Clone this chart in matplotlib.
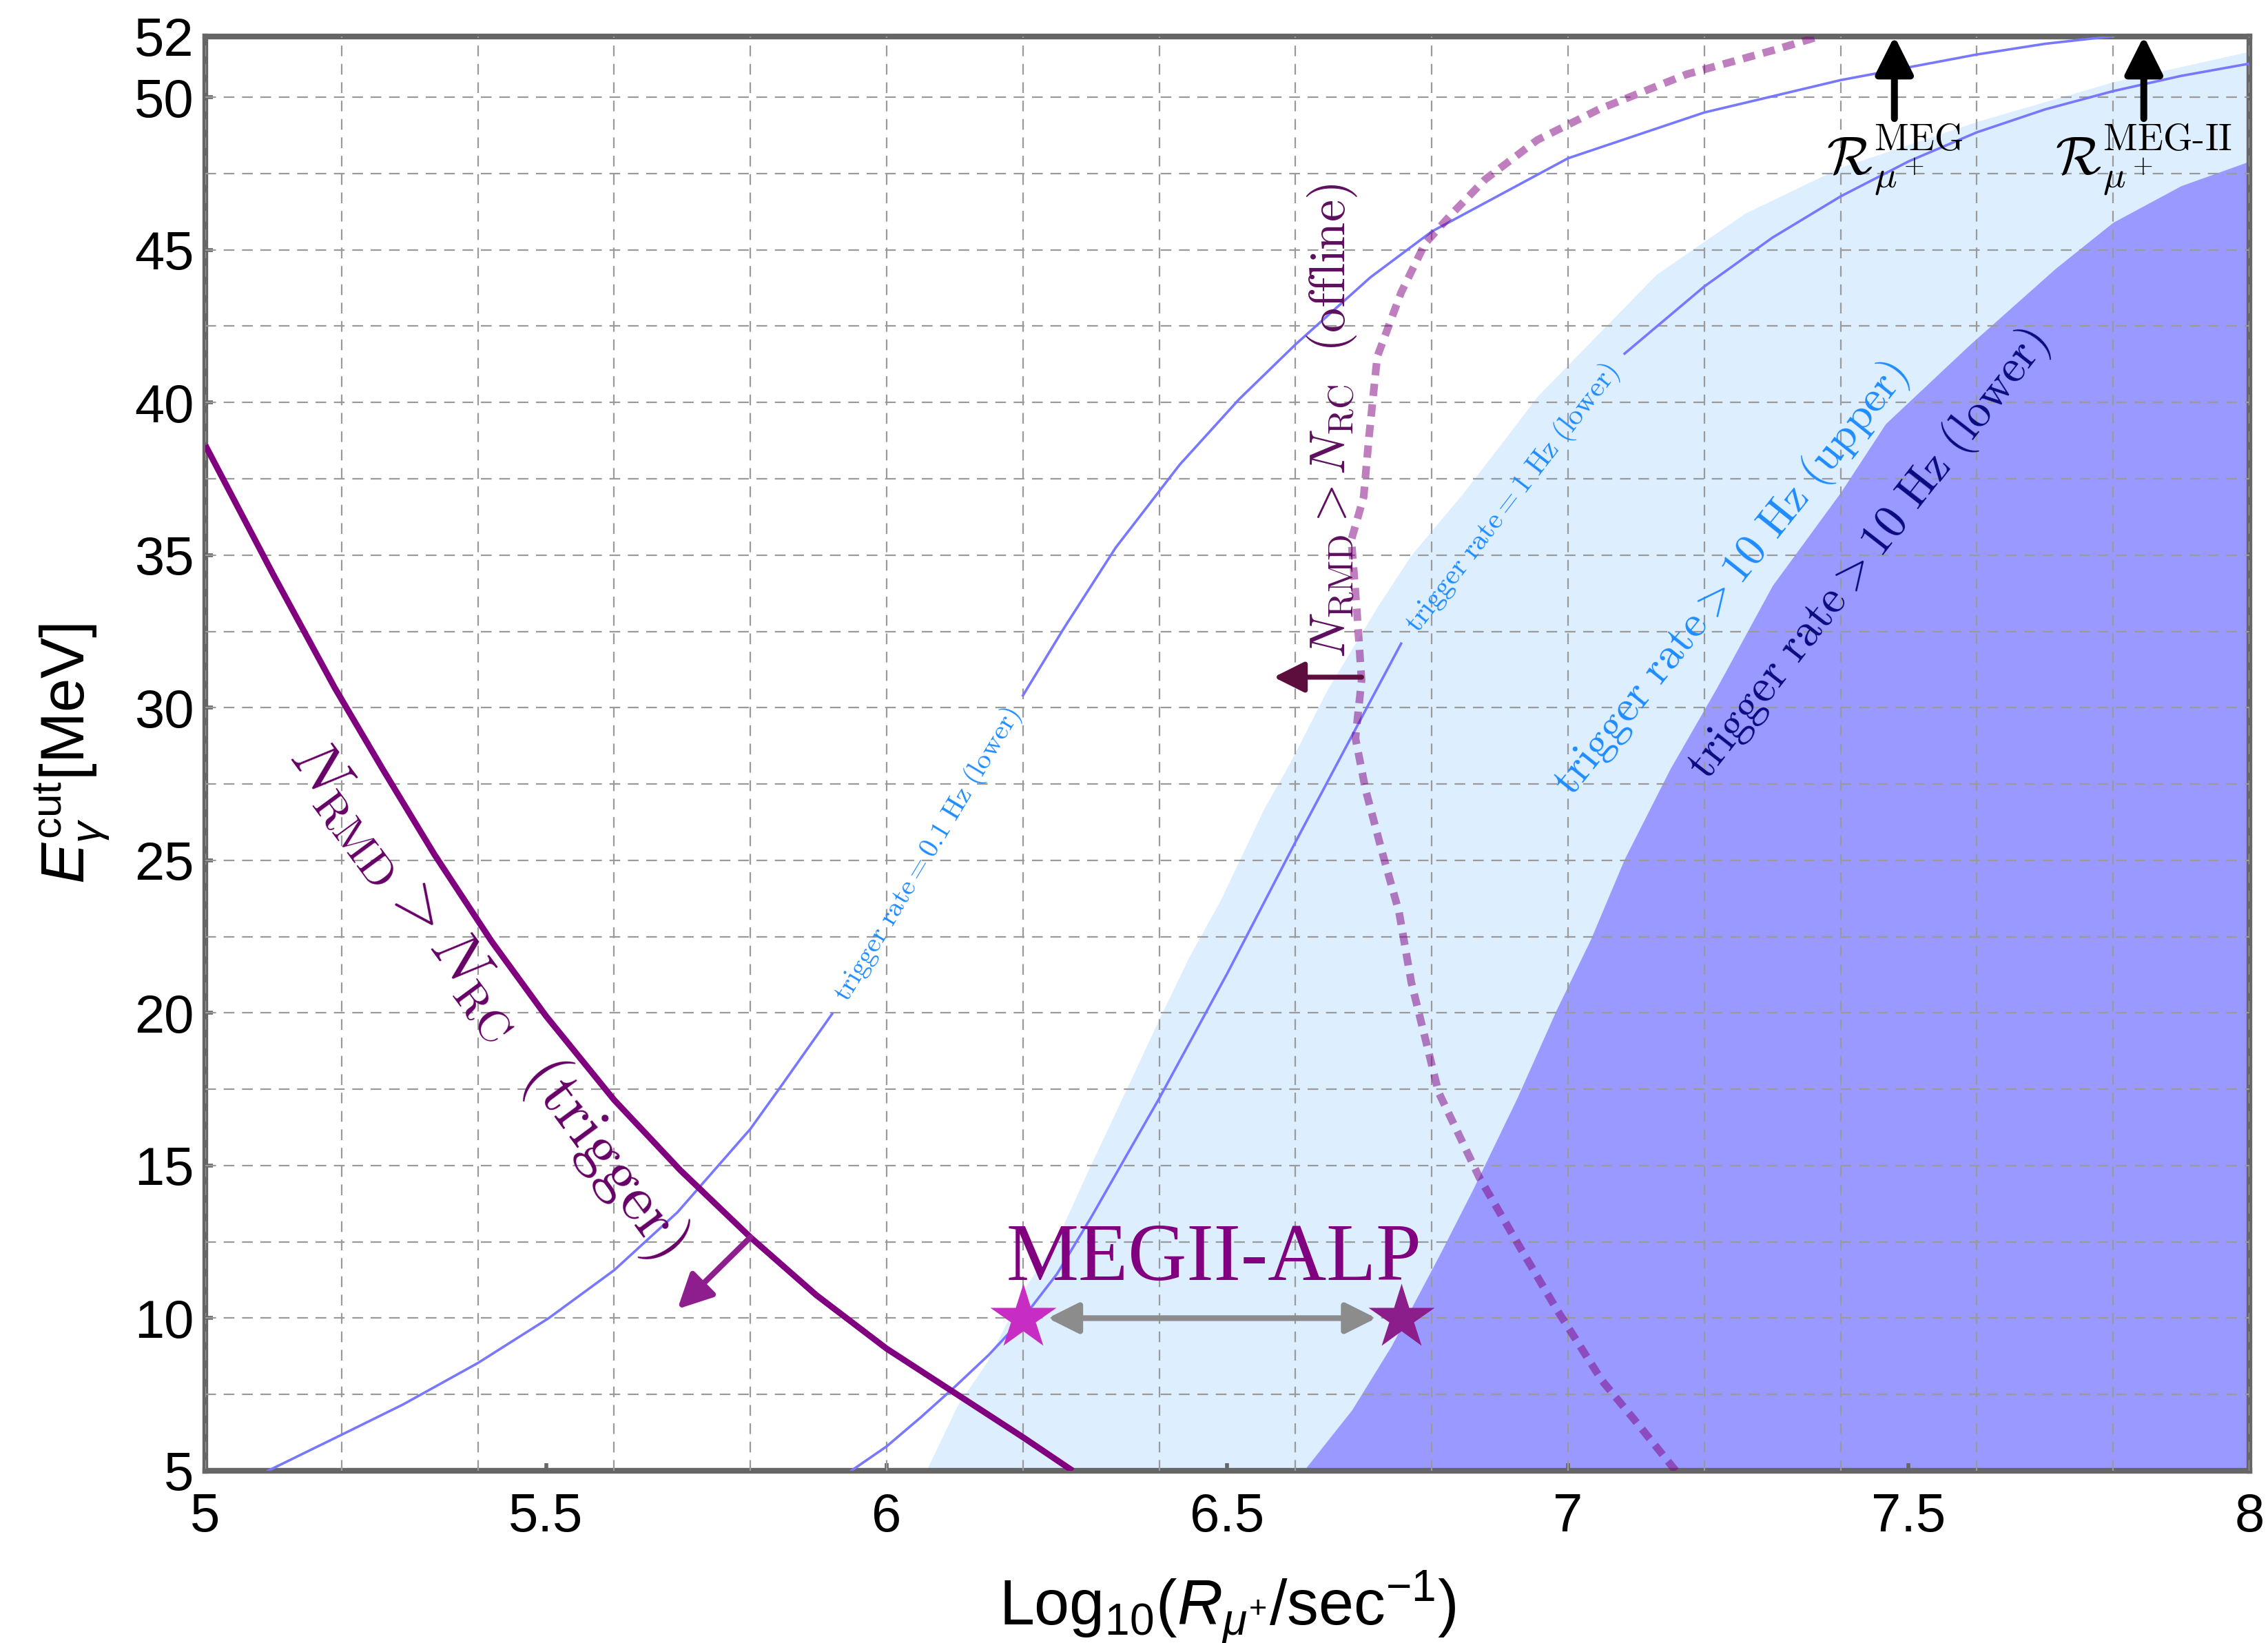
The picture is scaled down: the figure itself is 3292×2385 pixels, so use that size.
import numpy as np
import matplotlib
matplotlib.use("Agg")
import matplotlib.pyplot as plt
from matplotlib.ticker import MultipleLocator, FixedLocator

plt.rcParams["font.family"] = ["Liberation Sans", "DejaVu Sans"]
plt.rcParams["mathtext.fontset"] = "custom"
plt.rcParams["mathtext.rm"] = "Liberation Sans"
plt.rcParams["mathtext.it"] = "Liberation Sans:italic"
plt.rcParams["mathtext.bf"] = "Liberation Sans:bold"

# ---------------- data ----------------
# N_RMD > N_RC (trigger) boundary
trig_x = [5.0, 5.1, 5.19, 5.26, 5.336, 5.42, 5.5, 5.6, 5.697, 5.8, 5.897, 6.0, 6.1, 6.2, 6.273]
trig_y = [38.6, 34.35, 30.65, 28.0, 25.2, 22.35, 19.9, 17.15, 14.85, 12.65, 10.75, 9.0, 7.55, 6.1, 5.0]

# trigger rate = 0.1 Hz (lower)
r01_x = [5.092, 5.2, 5.29, 5.4, 5.504, 5.6, 5.693, 5.8, 5.845, 5.92,
         6.2, 6.26, 6.336, 6.43, 6.517, 6.6, 6.71, 6.8, 7.0, 7.2, 7.4, 7.6, 7.7, 7.8]
r01_y = [5.0, 6.18, 7.17, 8.53, 10.0, 11.57, 13.47, 16.2, 17.6, 19.97,
         30.4, 32.6, 35.24, 37.96, 40.1, 41.9, 44.1, 45.6, 48.0, 49.5, 50.56, 51.4, 51.75, 52.0]
r01_gap = (5.92, 6.2)

# trigger rate = 1 Hz (lower)
r1_x = [5.948, 6.0, 6.05, 6.1, 6.15, 6.2, 6.25, 6.3, 6.4, 6.5, 6.6, 6.7, 6.755,
        7.083, 7.2, 7.3, 7.4, 7.5, 7.6, 7.7, 7.8, 7.9, 8.0]
r1_y = [5.0, 5.8, 6.75, 7.75, 8.8, 10.0, 11.45, 13.3, 17.2, 21.3, 25.6, 29.8, 32.1,
        41.6, 43.8, 45.4, 46.75, 47.9, 48.85, 49.6, 50.2, 50.7, 51.1]
r1_gap = (6.755, 7.083)

# trigger rate > 10 Hz (upper) region boundary
up10_x = [6.058, 6.103, 6.148, 6.2, 6.25, 6.297, 6.335, 6.4, 6.443, 6.49, 6.554, 6.592, 6.647, 6.72,
          6.77, 6.845, 6.897, 6.955, 7.06, 7.13, 7.26, 7.4, 7.6, 7.8, 8.0]
up10_y = [5.0, 7.1, 8.6, 10.9, 12.6, 14.9, 16.7, 19.8, 21.8, 23.7, 26.7, 28.2, 30.6, 33.3,
          35.0, 37.0, 38.5, 40.2, 42.6, 44.2, 46.2, 47.7, 49.2, 50.5, 51.5]

# trigger rate > 10 Hz (lower) region boundary
lo10_x = [6.612, 6.683, 6.741, 6.812, 6.86, 6.925, 6.983, 7.033, 7.083, 7.15, 7.217, 7.3, 7.4,
          7.466, 7.59, 7.716, 7.8, 7.9, 8.0]
lo10_y = [5.0, 7.0, 9.1, 12.1, 14.2, 17.2, 20.1, 22.4, 25.05, 28.0, 30.6, 34.0, 37.05,
          39.3, 41.9, 44.4, 45.9, 47.1, 47.9]

# N_RMD > N_RC (offline) boundary
off_x = [7.158, 7.1, 7.05, 6.983, 6.93, 6.87, 6.81, 6.77, 6.752, 6.728, 6.703, 6.688, 6.697, 6.69,
         6.682, 6.70, 6.708, 6.72, 6.755, 6.79, 6.826, 6.878, 6.955, 7.045, 7.174, 7.303, 7.37]
off_y = [5.0, 6.6, 7.95, 10.3, 12.3, 14.6, 17.4, 21.0, 23.3, 25.2, 27.3, 29.0, 30.9, 33.2,
         35.5, 36.9, 38.9, 41.5, 43.6, 45.2, 46.1, 47.3, 48.6, 49.6, 50.75, 51.55, 52.0]

# MEGII-ALP operating points
star_x = [6.2, 6.755]
star_y = [10.0, 10.0]

# muon stopping rates of MEG and MEG-II
meg_x = [7.479, 7.845]
meg_names = [r"$\mathcal{R}_{\mu^+}^{\mathrm{MEG}}$", r"$\mathcal{R}_{\mu^+}^{\mathrm{MEG\text{-}II}}$"]

xticks = [5, 5.5, 6, 6.5, 7, 7.5, 8]
xtick_labels = ["5", "5.5", "6", "6.5", "7", "7.5", "8"]
yticks = [5, 10, 15, 20, 25, 30, 35, 40, 45, 50, 52]
ytick_labels = ["5", "10", "15", "20", "25", "30", "35", "40", "45", "50", "52"]

# ---------------- figure ----------------
W, H, DPI = 3292, 2385, 200
fig = plt.figure(figsize=(W / DPI, H / DPI), dpi=DPI)
ax = fig.add_axes([298 / W, 1 - 2135 / H, 2967 / W, 2082.5 / H])
ax.set_xlim(5, 8)
ax.set_ylim(5, 52)

FRAME = "#666666"
for s in ax.spines.values():
    s.set_color(FRAME)
    s.set_linewidth(3.0)

ax.set_xticks(xticks)
ax.set_xticklabels(xtick_labels)
ax.set_yticks(yticks)
ax.set_yticklabels(ytick_labels)
ax.xaxis.set_minor_locator(MultipleLocator(0.2))
ax.yaxis.set_minor_locator(FixedLocator(np.arange(7.5, 51, 2.5)))
ax.xaxis.remove_overlapping_locs = False
ax.yaxis.remove_overlapping_locs = False
ax.tick_params(which="major", direction="in", length=4, width=2, color=FRAME,
               labelsize=28, top=False, right=False)
ax.tick_params(axis="x", which="major", pad=11)
ax.tick_params(axis="y", which="major", pad=6)
ax.tick_params(which="minor", length=0)
ax.set_axisbelow(False)
ax.grid(which="minor", color="#9a9a9a", linestyle=(0, (7, 5)), linewidth=0.8)
ax.grid(which="major", visible=False)

# filled trigger-rate regions
ax.fill_betweenx(up10_y, up10_x, 8.0, color="#DDEEFF", lw=0, zorder=1)
ax.fill_betweenx(lo10_y, lo10_x, 8.0, color="#9999FF", lw=0, zorder=1.1)


def plot_with_gap(x, y, gap, **kw):
    x = np.asarray(x)
    y = np.asarray(y)
    left = x <= gap[0]
    right = x >= gap[1]
    ax.plot(x[left], y[left], **kw)
    ax.plot(x[right], y[right], **kw)


def screen_angle(p0, p1):
    a = ax.transData.transform(p0)
    b = ax.transData.transform(p1)
    return np.degrees(np.arctan2(b[1] - a[1], b[0] - a[0]))


BLUE_LINE = "#7777FF"
plot_with_gap(r01_x, r01_y, r01_gap, color=BLUE_LINE, lw=1.3, zorder=3)
plot_with_gap(r1_x, r1_y, r1_gap, color=BLUE_LINE, lw=1.3, zorder=3)

# offline boundary (dashed, translucent purple)
ax.plot(off_x, off_y, color="#800080", alpha=0.5, lw=4.0, linestyle=(0, (1.6, 1.1)),
        dash_capstyle="butt", zorder=3.2)

# trigger boundary
ax.plot(trig_x, trig_y, color="#800080", lw=3.2, zorder=3.4, solid_capstyle="butt")

# rate labels sitting in the gaps of the curves
BLUE_TXT = "#1E8CFF"
for (x, y, gap, txt, fs) in [
    (r01_x, r01_y, r01_gap, r"$\mathrm{trigger\ rate} = 0.1\ \mathrm{Hz}\ (\mathrm{lower})$", 14.5),
    (r1_x, r1_y, r1_gap, r"$\mathrm{trigger\ rate} = 1\ \mathrm{Hz}\ (\mathrm{lower})$", 15.2),
]:
    i0 = x.index(gap[0])
    i1 = x.index(gap[1])
    p0 = (x[i0], y[i0])
    p1 = (x[i1], y[i1])
    ang = screen_angle(p0, p1)
    ax.text((p0[0] + p1[0]) / 2, (p0[1] + p1[1]) / 2, txt, color=BLUE_TXT, fontsize=fs,
            rotation=ang, rotation_mode="anchor", ha="center", va="center",
            math_fontfamily="cm", zorder=4)

ax.text(7.24, 34.2, r"$\mathrm{trigger\ rate} > 10\ \mathrm{Hz}\ (\mathrm{upper})$",
        color=BLUE_TXT, fontsize=23.5, rotation=51.4, rotation_mode="anchor",
        ha="center", va="center", math_fontfamily="cm", zorder=4)
ax.text(7.44, 35.0, r"$\mathrm{trigger\ rate} > 10\ \mathrm{Hz}\ (\mathrm{lower})$",
        color="#0A0A80", fontsize=24.5, rotation=52.0, rotation_mode="anchor",
        ha="center", va="center", math_fontfamily="cm", zorder=4)

# N_RMD > N_RC labels
ax.text(5.4135, 20.46, r"$N_{\mathrm{RMD}} > N_{\mathrm{RC}}\ \ (\mathrm{trigger})$",
        color="#660066", fontsize=33.5, rotation=-53.6, rotation_mode="anchor",
        ha="center", va="center", math_fontfamily="cm", zorder=4)
ax.text(6.654, 39.4, r"$N_{\mathrm{RMD}} > N_{\mathrm{RC}}\ \ (\mathrm{offline})$",
        color="#5E0E5E", fontsize=26, rotation=90, rotation_mode="anchor",
        ha="center", va="center", math_fontfamily="cm", zorder=4)

# direction arrows
ax.annotate("", xy=(5.693, 10.3), xytext=(5.8, 12.65),
            arrowprops=dict(arrowstyle="-|>", color="#8E1E8E", lw=3.0,
                            mutation_scale=38, shrinkA=0, shrinkB=0), zorder=4)
ax.annotate("", xy=(6.568, 31.0), xytext=(6.697, 31.0),
            arrowprops=dict(arrowstyle="-|>", color="#5E0E3C", lw=2.6,
                            mutation_scale=34, shrinkA=0, shrinkB=0), zorder=4)

# MEGII-ALP points and range
ax.annotate("", xy=(star_x[1], star_y[1]), xytext=(star_x[0], star_y[0]),
            arrowprops=dict(arrowstyle="<|-|>", color="#8C8C8C", lw=3.0,
                            mutation_scale=34, shrinkA=13, shrinkB=13), zorder=4)
ax.plot(star_x[0], star_y[0], marker="*", ms=36, color="#C82DC3", mec="none", zorder=5)
ax.plot(star_x[1], star_y[1], marker="*", ms=36, color="#8C1E8C", mec="none", zorder=5)
ax.text(6.48, 11.25, "MEGII-ALP", family="Liberation Serif", fontsize=42.5,
        color="#800080", ha="center", va="baseline", zorder=5)

# MEG / MEG-II stopping rates
for x0, name in zip(meg_x, meg_names):
    ax.annotate("", xy=(x0, 52.0), xytext=(x0, 49.3),
                arrowprops=dict(arrowstyle="-|>", color="black", lw=3.6,
                                mutation_scale=42, shrinkA=0, shrinkB=0),
                annotation_clip=False, zorder=6)
    ax.text(x0, 47.95, name, fontsize=28, color="black", ha="center", va="center",
            math_fontfamily="cm", zorder=6)

ax.set_xlabel(r"Log$_{10}$($R_{\mu^{+}}$/sec$^{-1}$)", fontsize=33, labelpad=14)
ax.set_ylabel(r"$E_{\gamma}^{\mathrm{cut}}$[MeV]", fontsize=32, labelpad=12)

fig.savefig("out.png", dpi=DPI, facecolor="white")
